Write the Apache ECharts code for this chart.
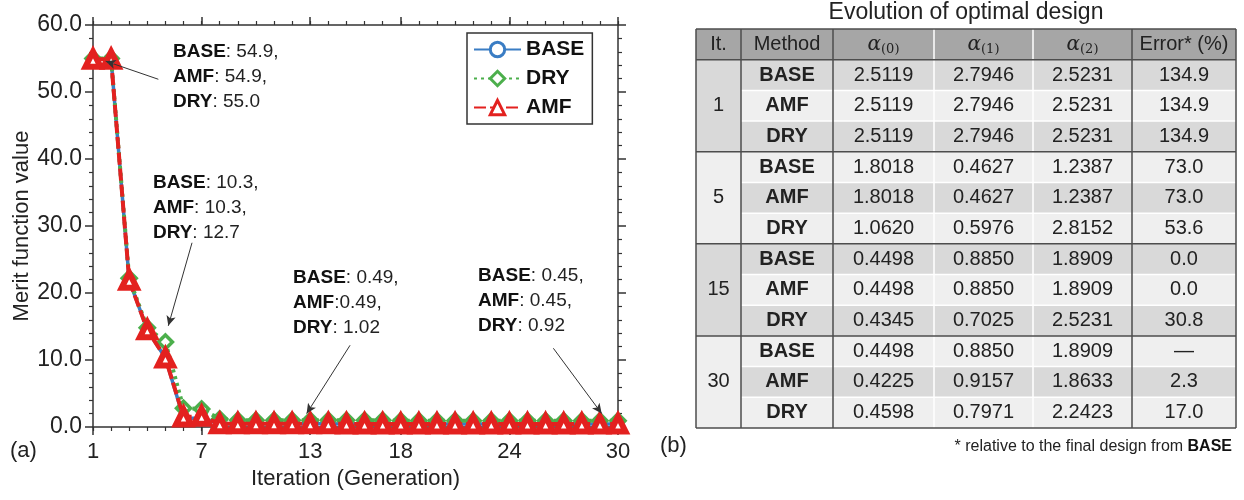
<!DOCTYPE html>
<html><head><meta charset="utf-8">
<script src="https://cdn.jsdelivr.net/npm/echarts@6/dist/echarts.min.js"></script>
<style>html,body{margin:0;padding:0;background:#fff}#c{width:1244px;height:500px}</style>
</head><body><div id="c"></div>
<script>
// ---------- data: merit function chart ----------
const iterations = [1,2,3,4,5,6,7,8,9,10,11,12,13,14,15,16,17,18,19,20,21,22,23,24,25,26,27,28,29,30];
const baseValues = [54.9,54.9,21.9,14.5,10.3,1.3,1.3,0.49,0.49,0.49,0.49,0.49,0.49,0.49,0.45,0.45,0.45,0.45,0.45,0.45,0.45,0.45,0.45,0.45,0.45,0.45,0.45,0.45,0.45,0.45];
const dryValues  = [55.0,55.0,22.2,14.8,12.7,2.8,2.7,1.2,1.02,1.02,1.02,1.02,1.02,1.02,1.02,1.02,1.02,0.92,0.92,0.92,0.92,0.92,0.92,0.92,0.92,0.92,0.92,0.92,0.92,0.92];
const amfValues  = [54.9,54.9,21.9,14.5,10.3,1.5,1.6,0.49,0.49,0.49,0.49,0.49,0.49,0.49,0.45,0.45,0.45,0.45,0.45,0.45,0.45,0.45,0.45,0.45,0.45,0.45,0.45,0.45,0.45,0.45];
const xTickLabels = [1,7,13,18,24,30];
const yTicks = [0,10,20,30,40,50,60];

// ---------- data: table ----------
const tableHeaders = ['It.','Method','α(0)','α(1)','α(2)','Error* (%)'];
const tableIterations = ['1','5','15','30'];
const tableMethods = ['BASE','AMF','DRY'];
const alpha0 = [2.5119,2.5119,2.5119,1.8018,1.8018,1.0620,0.4498,0.4498,0.4345,0.4498,0.4225,0.4598];
const alpha1 = [2.7946,2.7946,2.7946,0.4627,0.4627,0.5976,0.8850,0.8850,0.7025,0.8850,0.9157,0.7971];
const alpha2 = [2.5231,2.5231,2.5231,1.2387,1.2387,2.8152,1.8909,1.8909,2.5231,1.8909,1.8633,2.2423];
const errorPct = [134.9,134.9,134.9,73.0,73.0,53.6,0.0,0.0,30.8,null,2.3,17.0];

// ---------- layout / style ----------
const FONT = 'Liberation Sans';
const C_BASE = '#3a7dc4', C_DRY = '#4caf4c', C_AMF = '#e3211f';
const AX = '#333';
const colEdges = [0,45,137,238,337,436,540];
const annotations = [
  {pos:[5.42,57.8], lines:[['BASE',': 54.9,'],['AMF',': 54.9,'],['DRY',': 55.0']], arrow:[[4.61,51.9],[1.7,54.6]]},
  {pos:[4.31,38.3], lines:[['BASE',': 10.3,'],['AMF',': 10.3,'],['DRY',': 12.7']], arrow:[[6.47,27.5],[5.16,15.1]]},
  {pos:[12.05,24.1], lines:[['BASE',': 0.49,'],['AMF',':0.49,'],['DRY',': 1.02']], arrow:[[15.2,12.2],[12.8,2.0]]},
  {pos:[22.27,24.4], lines:[['BASE',': 0.45,'],['AMF',': 0.45,'],['DRY',': 0.92']], arrow:[[26.43,11.75],[29.1,2.0]]}
];

const toPairs = vals => iterations.map((x,i)=>[x, vals[i]]);

// table cells
const GRAY = '#d9d9d9', LIGHT = '#efefef', HEAD = '#a6a6a6';
const cells = [];
tableHeaders.forEach((h,c)=>cells.push({c, r0:0, r1:1, text:h, fill:HEAD, head:true, alpha: c>=2 && c<=4}));
tableIterations.forEach((it,g)=>cells.push({c:0, r0:1+3*g, r1:4+3*g, text:it, fill: g%2===0?GRAY:LIGHT}));
for (let i=0;i<12;i++){
  const fill = i%2===0?GRAY:LIGHT;
  const row = [tableMethods[i%3], alpha0[i].toFixed(4), alpha1[i].toFixed(4), alpha2[i].toFixed(4), errorPct[i]===null?'—':errorPct[i].toFixed(1)];
  row.forEach((t,k)=>cells.push({c:k+1, r0:1+i, r1:2+i, text:t, fill, bold:k===0}));
}
// table rules: [x0,y0,x1,y1,dark]
const rules = [];
[3,4].forEach(c=>rules.push([colEdges[c],0,colEdges[c],13,false]));
for (let g=0;g<4;g++){ [2,3].forEach(k=>rules.push([colEdges[1],1+3*g+k-1,colEdges[6],1+3*g+k-1,false])); }
[1,2,5].forEach(c=>rules.push([colEdges[c],0,colEdges[c],13,true]));
[1,4,7,10].forEach(r=>rules.push([0,r,540,r,true]));
rules.push([0,0,540,0,true],[0,13,540,13,true],[0,0,0,13,true],[540,0,540,13,true]);

const chart = echarts.init(document.getElementById('c'), null, {renderer:'canvas'});

const tickX = (pos, major) => ({
  type:'value', gridIndex:0, position:pos, min:1, max:30, interval:1,
  axisLine:{show:!major, lineStyle:{color:AX, width:1.5}},
  axisTick:major ? {show:true, customValues:xTickLabels, length:8, lineStyle:{color:AX, width:1.5}}
                 : {show:true, length:4, lineStyle:{color:AX, width:1.2}},
  axisLabel:(pos==='bottom' && !major) ? {show:true, customValues:xTickLabels, fontFamily:FONT, fontSize:22, color:'#222', margin:14} : {show:false},
  splitLine:{show:false},
  name: (pos==='bottom' && !major) ? 'Iteration (Generation)' : '',
  nameLocation:'middle', nameGap:40,
  nameTextStyle:{fontFamily:FONT, fontSize:22, color:'#222'}
});
const valY = (pos) => ({
  type:'value', gridIndex:0, position:pos, min:0, max:60, interval:10,
  axisLine:{show:true, lineStyle:{color:AX, width:1.5}},
  axisTick:{show:true, length:8, lineStyle:{color:AX, width:1.5}},
  minorTick:{show:true, splitNumber:5, length:4, lineStyle:{color:AX, width:1.2}},
  axisLabel: pos==='left' ? {show:true, fontFamily:FONT, fontSize:23, color:'#222', margin:11, formatter:v=>v.toFixed(1)} : {show:false},
  splitLine:{show:false},
  name: pos==='left' ? 'Merit function value' : '',
  nameLocation:'middle', nameGap:58,
  nameTextStyle:{fontFamily:FONT, fontSize:22, color:'#222'}
});

const markPointData = annotations.map(a=>({
  coord:a.pos, symbol:'circle', symbolSize:0,
  label:{show:true, position:[0,0], align:'left', verticalAlign:'top',
    formatter: a.lines.map(l=>'{b|'+l[0]+'}{n|'+l[1]+'}').join('\n'),
    rich:{b:{fontFamily:FONT, fontWeight:'bold', fontSize:19, lineHeight:25, color:'#111'},
          n:{fontFamily:FONT, fontSize:19, lineHeight:25, color:'#222'}}}
}));
const markLineData = annotations.map(a=>[
  {coord:a.arrow[0], symbol:'none', symbolSize:0},
  {coord:a.arrow[1], symbol:'arrow', symbolSize:[7,10]}
]);

const option = {
  animation:false,
  backgroundColor:'#fff',
  grid:[
    {left:93, top:25, width:525, height:402, containLabel:false},
    {left:696, top:29, width:540, height:399}
  ],
  xAxis:[
    tickX('bottom', false), tickX('bottom', true), tickX('top', false), tickX('top', true),
    {type:'value', gridIndex:1, min:0, max:540, show:false}
  ],
  yAxis:[
    valY('left'), valY('right'),
    {type:'value', gridIndex:1, min:0, max:13, inverse:true, show:false}
  ],
  legend:{
    data:['BASE','DRY','AMF'], orient:'vertical', left:467, top:33,
    itemWidth:47, itemHeight:18, itemGap:8, padding:[6,8,6,6],
    borderColor:'#333', borderWidth:1.5, backgroundColor:'#fff',
    itemStyle:{borderWidth:3},
    textStyle:{fontFamily:FONT, fontSize:21, fontWeight:'bold', color:'#111'}
  },
  series:[
    {name:'BASE', type:'line', xAxisIndex:0, yAxisIndex:0, data:toPairs(baseValues),
     symbol:'circle', symbolSize:9,
     itemStyle:{color:'#ffffff', borderColor:C_BASE, borderWidth:2.5}, lineStyle:{color:C_BASE, width:3.5, type:'solid'}, z:2,
     markPoint:{data:markPointData, silent:true, animation:false},
     markLine:{data:markLineData, silent:true, animation:false, z:10,
       itemStyle:{color:'#222'},
       lineStyle:{color:'#333', width:1, type:'solid'}, label:{show:false}}
    },
    {name:'DRY', type:'line', xAxisIndex:0, yAxisIndex:0, data:toPairs(dryValues),
     symbol:'diamond', symbolSize:14,
     itemStyle:{color:'#ffffff', borderColor:C_DRY, borderWidth:3.5}, lineStyle:{color:C_DRY, width:4, type:[3,4]}, z:3},
    {name:'AMF', type:'line', xAxisIndex:0, yAxisIndex:0, data:toPairs(amfValues),
     symbol:'triangle', symbolSize:15,
     itemStyle:{color:'#ffffff', borderColor:C_AMF, borderWidth:6}, lineStyle:{color:C_AMF, width:4, type:[12,4]}, z:4},
    {type:'custom', name:'tableCells', xAxisIndex:4, yAxisIndex:2, clip:false, silent:true,
     data:cells.map((c,i)=>[colEdges[c.c], c.r0, i]), encode:{x:0, y:1},
     renderItem:(params, api)=>{
       const c = cells[params.dataIndex];
       const p0 = api.coord([colEdges[c.c], c.r0]);
       const p1 = api.coord([colEdges[c.c+1], c.r1]);
       let text = c.text, rich = {};
       if (c.alpha) {
         const sub = c.text.slice(1);
         text = '{a|α}{s|' + sub + '}';
         rich = {a:{fontFamily:'DejaVu Serif', fontStyle:'italic', fontSize:20, color:'#222', verticalAlign:'middle'},
                 s:{fontFamily:'DejaVu Serif', fontSize:13, color:'#222', padding:[10,0,0,0]}};
       }
       return {
         type:'rect',
         shape:{x:p0[0], y:Math.min(p0[1],p1[1]), width:p1[0]-p0[0], height:Math.abs(p1[1]-p0[1])},
         style:{fill:c.fill},
         textContent:{style:{text, rich, fontFamily:FONT, fontSize:20, fontWeight:c.bold?'bold':'normal', fill:'#222', align:'center', verticalAlign:'middle'}},
         textConfig:{position:'inside'}
       };
     }
    },
    {type:'custom', name:'tableRules', xAxisIndex:4, yAxisIndex:2, clip:false, silent:true, z:3,
     data:rules.map((r,i)=>[r[0], r[1], i]), encode:{x:0, y:1},
     renderItem:(params, api)=>{
       const r = rules[params.dataIndex];
       const a = api.coord([r[0], r[1]]), b = api.coord([r[2], r[3]]);
       return {type:'line', shape:{x1:a[0], y1:a[1], x2:b[0], y2:b[1]},
               style:{stroke:r[4]?'#4d4d4d':'#ffffff', lineWidth:1.5}};
     }
    }
  ],
  graphic:[
    {type:'text', x:10, y:451, style:{text:'(a)', fontFamily:FONT, fontSize:22, fill:'#222', verticalAlign:'middle'}},
    {type:'text', x:660, y:446, style:{text:'(b)', fontFamily:FONT, fontSize:22, fill:'#222', verticalAlign:'middle'}},
    {type:'text', x:966, y:13, style:{text:'Evolution of optimal design', fontFamily:FONT, fontSize:23, fill:'#222', align:'center', verticalAlign:'middle'}},
    {type:'text', x:1232, y:447, style:{text:'{n|* relative to the final design from }{b|BASE}', align:'right', verticalAlign:'middle',
      rich:{n:{fontFamily:FONT, fontSize:16, fill:'#222', color:'#222'}, b:{fontFamily:FONT, fontSize:16, fontWeight:'bold', fill:'#111', color:'#111'}}}}
  ]
};
chart.setOption(option);
</script>
</body></html>
